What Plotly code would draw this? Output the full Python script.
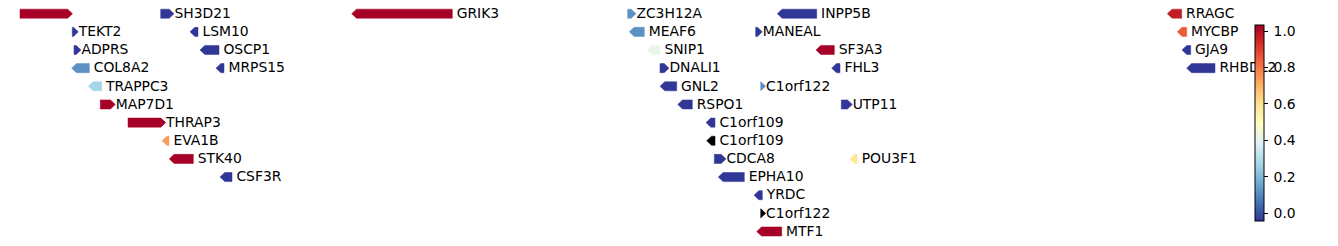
import plotly.graph_objects as go
from plotly.colors import sample_colorscale

# ---- data (positions along the track, arbitrary units) ----
genes = ["", "SH3D21", "GRIK3", "ZC3H12A", "INPP5B", "RRAGC",
         "TEKT2", "LSM10", "MEAF6", "MANEAL", "MYCBP",
         "ADPRS", "OSCP1", "SNIP1", "SF3A3", "GJA9",
         "COL8A2", "MRPS15", "DNALI1", "FHL3", "RHBDL2",
         "TRAPPC3", "GNL2", "C1orf122",
         "MAP7D1", "RSPO1", "UTP11",
         "THRAP3", "C1orf109",
         "EVA1B", "C1orf109",
         "STK40", "CDCA8", "POU3F1",
         "CSF3R", "EPHA10",
         "YRDC",
         "C1orf122",
         "MTF1"]
starts = [20, 160.7, 351.7, 627.7, 777.3, 1167.3,
          72.3, 190, 629.3, 755.7, 1177.3,
          74, 200, 647.3, 816, 1182,
          71.7, 216, 660, 831.7, 1186.7,
          88.3, 660, 760.7,
          100.3, 677.7, 841.3,
          128, 706,
          162, 706.7,
          169.3, 714.3, 850,
          220, 718.3,
          754,
          760.7,
          756.7]
ends = [72.5, 174, 452.3, 636, 816.7, 1181.7,
        78.3, 198, 644.3, 762.3, 1186.7,
        81, 219, 660, 834.3, 1190.7,
        89.3, 224, 669, 840, 1215,
        101.7, 676.7, 765.7,
        115.3, 692.3, 852.3,
        165.7, 715,
        169, 715,
        193.3, 726, 857.3,
        232, 744.3,
        762.3,
        765.7,
        781.7]
strands = [1, 1, -1, 1, -1, -1,
           1, -1, -1, 1, -1,
           1, -1, -1, -1, -1,
           -1, -1, 1, -1, -1,
           -1, -1, 1,
           1, -1, 1,
           1, -1,
           -1, -1,
           -1, 1, -1,
           -1, -1,
           -1,
           1,
           -1]
rows = [0, 0, 0, 0, 0, 0,
        1, 1, 1, 1, 1,
        2, 2, 2, 2, 2,
        3, 3, 3, 3, 3,
        4, 4, 4,
        5, 5, 5,
        6, 6,
        7, 7,
        8, 8, 8,
        9, 9,
        10,
        11,
        12]
scores = [1.03, -0.04, 1.03, 0.12, -0.04, 0.97,
          -0.04, -0.04, 0.12, -0.04, 0.85,
          -0.04, -0.04, 0.42, 1.03, -0.04,
          0.12, -0.04, -0.04, -0.04, -0.04,
          0.27, -0.04, 0.12,
          1.03, -0.04, -0.04,
          1.03, -0.04,
          0.74, None,
          1.03, -0.04, 0.58,
          -0.04, -0.04,
          -0.04,
          None,
          1.03]
cbar_ticks = [0.0, 0.2, 0.4, 0.6, 0.8, 1.0]

CMIN, CMAX = -0.042, 1.033
TIP = 4.8          # arrow head length (x units)
HALF_H = 0.25      # half height of arrow (rows)
ROW0_PX, ROW_STEP_PX = 13.7, 18.15
TEXT_DY = 0.8 / ROW_STEP_PX


def color_of(v):
    if v is None:
        return "black"
    t = (v - CMIN) / (CMAX - CMIN)
    t = min(max(t, 0), 1)
    return sample_colorscale("RdYlBu_r", [t])[0]


fig = go.Figure()

for s, e, st, r, v in zip(starts, ends, strands, rows, scores):
    h = min(TIP, e - s)
    if st > 0:
        xs = [s, e - h, e, e - h, s, s]
    else:
        xs = [e, s + h, s, s + h, e, e]
    ys = [r - HALF_H, r - HALF_H, r, r + HALF_H, r + HALF_H, r - HALF_H]
    c = color_of(v)
    fig.add_trace(go.Scatter(x=xs, y=ys, mode="lines", fill="toself",
                             fillcolor=c, line=dict(width=0.5, color=c),
                             hoverinfo="skip", showlegend=False))

label_x = [e + (0.4 if st > 0 else 4.4) for e, st in zip(ends, strands)]
label_y = [r + TEXT_DY for r in rows]
fig.add_trace(go.Scatter(x=label_x, y=label_y, mode="text", text=genes,
                         textposition="middle right",
                         textfont=dict(family="DejaVu Sans", size=13.9, color="black"),
                         hoverinfo="skip", showlegend=False))

# colorbar carrier
fig.add_trace(go.Scatter(
    x=[0], y=[0], mode="markers",
    marker=dict(size=1, opacity=0, color=[0.5], colorscale="RdYlBu_r",
                cmin=CMIN, cmax=CMAX, showscale=True,
                colorbar=dict(
                    x=1255 / 1338, xanchor="left", xpad=0,
                    y=1 - 123 / 246, yanchor="middle", ypad=0,
                    len=196, lenmode="pixels",
                    thickness=9, thicknessmode="pixels",
                    outlinewidth=1, outlinecolor="black",
                    ticks="outside", ticklen=4, tickwidth=1, tickcolor="black",
                    tickvals=cbar_ticks,
                    ticktext=["\u2009" + f"{t:.1f}" for t in cbar_ticks],
                    tickfont=dict(family="DejaVu Sans", size=13.9, color="black"),
                )),
    hoverinfo="skip", showlegend=False))

fig.update_layout(
    width=1338, height=246,
    margin=dict(l=0, r=0, t=0, b=0, pad=0, autoexpand=False),
    paper_bgcolor="white", plot_bgcolor="white",
    xaxis=dict(range=[0, 1338], visible=False, showgrid=False, zeroline=False),
    yaxis=dict(range=[(246 - ROW0_PX) / ROW_STEP_PX, -ROW0_PX / ROW_STEP_PX],
               visible=False, showgrid=False, zeroline=False),
    font=dict(family="DejaVu Sans"),
)

fig.write_html("out.html")
